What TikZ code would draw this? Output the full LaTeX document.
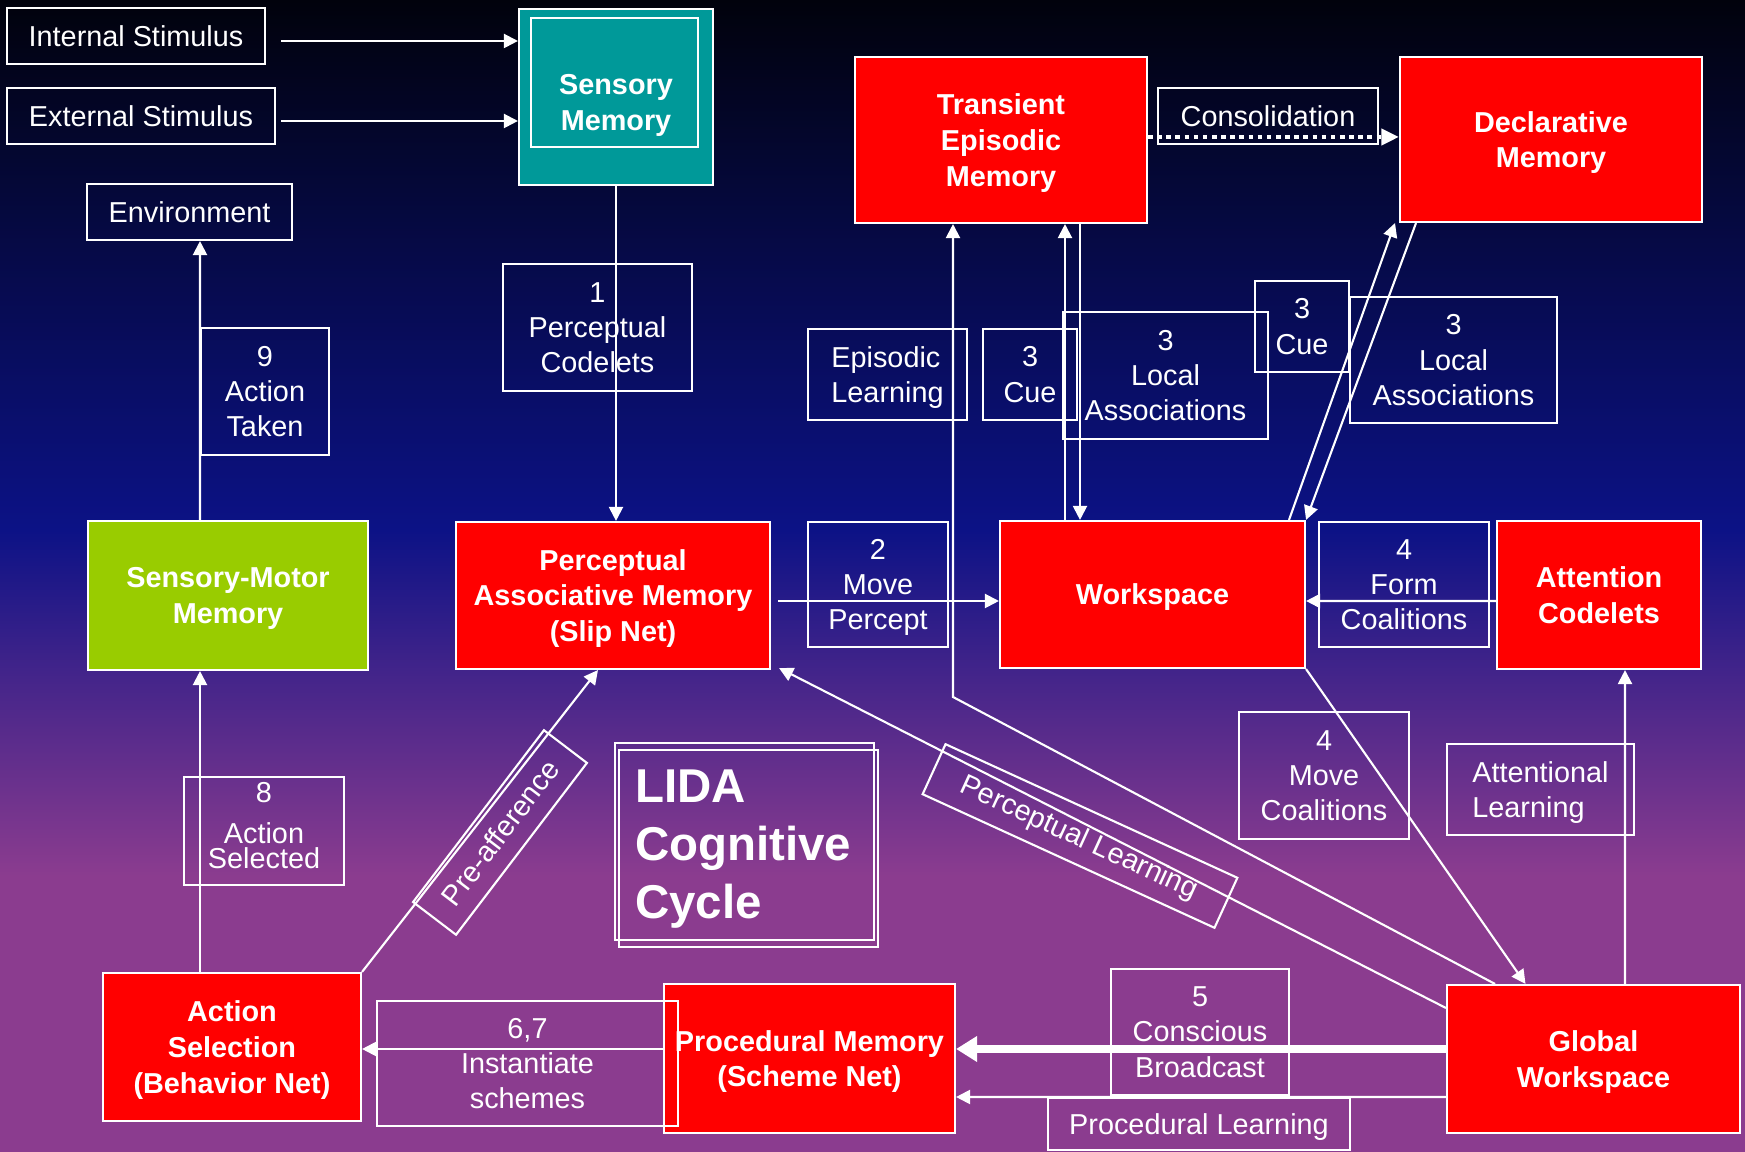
\documentclass[tikz,border=0pt]{standalone}
\usepackage{fontspec}
\setmainfont{Liberation Sans}
\usepackage{tikz}
\usetikzlibrary{positioning,arrows.meta,calc}

\definecolor{smteal}{HTML}{009999}
\definecolor{smgreen}{HTML}{99CC00}
\definecolor{bgtop}{HTML}{01020C}
\definecolor{bgdark}{HTML}{060A48}
\definecolor{bgblue}{HTML}{0C1286}
\definecolor{bgviolet}{HTML}{45258A}
\definecolor{bgbottom}{HTML}{8B3C8F}
\pgfdeclareverticalshading{lidabg}{100bp}{color(0bp)=(bgbottom); color(37bp)=(bgbottom);
  color(45.5bp)=(bgviolet); color(52bp)=(bgblue);
  color(64bp)=(bgdark); color(75bp)=(bgtop); color(100bp)=(bgtop)}

\tikzset{
  lbl/.style={draw=white, line width=0.6pt, text=white, align=center, inner sep=0pt,
    text depth=0pt, font=\fontsize{8.2}{10}\selectfont},
  mem/.style={draw=white, line width=0.6pt, fill=red, text=white, align=center, inner sep=0pt,
    text depth=0pt, font=\fontsize{8.2}{10.2}\selectfont\bfseries},
  boxline/.style={draw=white, line width=0.6pt},
  arr/.style={draw=white, line width=0.6pt, -{Triangle[length=4pt,width=4pt]}},
  bigarr/.style={draw=white, line width=2.2pt, -{Triangle[length=6pt,width=7pt]}},
  dotarr/.style={draw=white, line width=1.3pt, dash pattern=on 1.3pt off 1.3pt,
    -{Triangle[length=5pt,width=4.5pt]}},
}

\begin{document}
\begin{tikzpicture}[x=0.1mm, y=-0.1mm]
  \shade[shading=lidabg] (0,0) rectangle (1745,1152);
  \useasboundingbox (0,0) rectangle (1745,1152);

  % inputs and sensory memory
  \node[lbl, minimum width=25.8mm, minimum height=5.6mm] (intstim) at (136,36) {Internal Stimulus};
  \node[lbl, minimum width=26.8mm, minimum height=5.6mm] (extstim) at (141,116) {External Stimulus};
  \node[mem, fill=smteal, text height=18.8pt, minimum width=19.4mm, minimum height=17.6mm] (sensory) at (616,97) {Sensory\\Memory};
  \draw[boxline] ($(sensory.north west)+(13,10)$) rectangle ($(sensory.south east)+(-16,-39)$);
  \node[lbl, minimum width=20.5mm, minimum height=5.6mm] (env) at (189.5,212) {Environment};
  \node[lbl, minimum width=12.8mm, minimum height=12.7mm] (taken) at (265,391.5) {9\\Action\\Taken};
  \node[lbl, minimum width=18.9mm, minimum height=12.7mm] (percod) at (597.5,327.5) {1\\Perceptual\\Codelets};

  % episodic and declarative memory
  \node[mem, minimum width=29.2mm, minimum height=16.6mm] (tem) at (1001,140) {Transient\\Episodic\\Memory};
  \node[lbl, minimum width=22mm, minimum height=5.6mm] (consol) at (1268,116) {Consolidation};
  \node[mem, minimum width=30.2mm, minimum height=16.5mm] (decl) at (1551,139.5) {Declarative\\Memory};
  \node[lbl, align=left, minimum width=15.9mm, minimum height=9.1mm] (eplearn) at (887.5,374.5) {Episodic\\Learning};
  \node[lbl, minimum width=9.4mm, minimum height=9.1mm] (cuetem) at (1030,374.5) {3\\Cue};
  \node[lbl, minimum width=20.5mm, minimum height=12.7mm] (assoctem) at (1165.5,375.5) {3\\Local\\Associations};
  \node[lbl, minimum width=9.4mm, minimum height=9.1mm] (cuedecl) at (1302,326.5) {3\\Cue};
  \node[lbl, minimum width=20.7mm, minimum height=12.6mm] (assocdecl) at (1453.5,360) {3\\Local\\Associations};

  % middle row
  \node[mem, fill=smgreen, minimum width=28mm, minimum height=14.9mm] (smm) at (228,595.5) {Sensory-Motor\\Memory};
  \node[mem, minimum width=31.4mm, minimum height=14.7mm] (pam) at (613,595.5) {Perceptual\\Associative Memory\\(Slip Net)};
  \node[lbl, minimum width=14mm, minimum height=12.5mm] (movep) at (878,584.5) {2\\Move\\Percept};
  \node[mem, minimum width=30.5mm, minimum height=14.7mm] (ws) at (1152.5,594.5) {Workspace};
  \node[lbl, minimum width=17mm, minimum height=12.5mm] (formc) at (1404,584.5) {4\\Form\\Coalitions};
  \node[mem, minimum width=20.4mm, minimum height=14.8mm] (attcod) at (1599,595) {Attention\\Codelets};

  % lower half
  \node[lbl, text depth=3.1pt, minimum width=16mm, minimum height=10.8mm] (sel) at (264,831) {8\\[1.7pt]Action\\[-2.8pt]Selected};
  \node[lbl, rotate=52.7, minimum width=21.6mm, minimum height=5.4mm] (preaff) at (500,832.5) {Pre-afference};
  \node[lbl, font=\fontsize{13.5}{16.5}\selectfont\bfseries, align=left, text width=21.9mm,
    text depth=31.6pt, inner xsep=2mm, minimum height=19.7mm] (lida) at (744.5,841.5) {LIDA\\Cognitive\\Cycle};
  \draw[boxline] ($(lida.north west)+(5,8)$) rectangle ($(lida.south east)+(3,6)$);
  \node[lbl, rotate=-24.6, minimum width=32.1mm, minimum height=5.5mm] (perclearn) at (1080,836) {Perceptual Learning};
  \node[lbl, minimum width=17mm, minimum height=12.7mm] (movec) at (1324,775.5) {4\\Move\\Coalitions};
  \node[lbl, align=left, minimum width=18.7mm, minimum height=9.1mm] (attlearn) at (1540.5,789.5) {Attentional\\Learning};

  % bottom row
  \node[mem, minimum width=25.8mm, minimum height=14.8mm] (asel) at (232,1047) {Action\\Selection\\(Behavior Net)};
  \node[mem, minimum width=29.1mm, minimum height=14.9mm] (pmem) at (809.5,1058.5) {Procedural Memory\\(Scheme Net)};
  \node[lbl, minimum width=30.1mm, minimum height=12.5mm] (inst) at (527.5,1063.5) {6,7\\Instantiate\\schemes};
  \node[lbl, minimum width=17.8mm, minimum height=12.6mm] (broad) at (1200,1032) {5\\Conscious\\Broadcast};
  \node[lbl, minimum width=30.2mm, minimum height=5.2mm] (proclearn) at (1199,1124) {Procedural Learning};
  \node[mem, minimum width=29.3mm, minimum height=14.8mm] (gw) at (1593.5,1059) {Global\\Workspace};

  % connectors
  \draw[arr] ($(intstim.east)+(15,5)$) -- ($(sensory.west)+(0,-56)$);
  \draw[arr] ($(extstim.east)+(5,5)$) -- ($(sensory.west)+(0,24)$);
  \draw[arr] (sensory.south) -- (sensory.south |- pam.north);
  \draw[arr] ($(smm.north)+(-28,0)$) -- ($(env.south)+(10.5,0)$);
  \draw[arr] ($(asel.north)+(-32,0)$) -- ($(smm.south)+(-28,0)$);
  \draw[arr] (asel.north east) -- ($(pam.south)+(-15,0)$);
  \draw[arr] ($(pam.east)+(7,5.5)$) -- ($(ws.west)+(0,6.5)$);
  \draw[arr] ($(attcod.west)+(0,6)$) -- ($(ws.east)+(0,6.5)$);
  \draw[arr] ($(ws.north)+(-87.5,0)$) -- ($(tem.south)+(64,0)$);
  \draw[arr] ($(tem.south)+(79,0)$) -- ($(ws.north)+(-72.5,0)$);
  \draw[arr] ($(ws.north)+(136.5,0)$) -- ($(decl.south)+(-156,0)$);
  \draw[arr] ($(decl.south)+(-135,0)$) -- (ws.north east);
  \draw[dotarr] ($(tem.east)+(0,-3)$) -- ($(decl.west)+(0,-2.5)$);
  \coordinate (epbend) at (953,697);
  \draw[arr] ($(gw.north)+(-98.5,0)$) -- (epbend) -- (epbend |- tem.south);
  \draw[arr] ($(gw.west)+(0,-51)$) -- ($(pam.south east)+(8,-2)$);
  \draw[arr] (ws.south east) -- ($(gw.north)+(-68,0)$);
  \draw[arr] ($(gw.north)+(31.5,0)$) -- ($(attcod.south)+(26,0)$);
  \draw[bigarr] ($(gw.west)+(0,-10)$) -- ($(pmem.east)+(0,-9.5)$);
  \draw[arr] ($(gw.west)+(0,38)$) -- ($(pmem.east)+(0,38.5)$);
  \draw[arr] ($(pmem.west)+(0,-9.5)$) -- ($(asel.east)+(0,2)$);
\end{tikzpicture}
\end{document}
